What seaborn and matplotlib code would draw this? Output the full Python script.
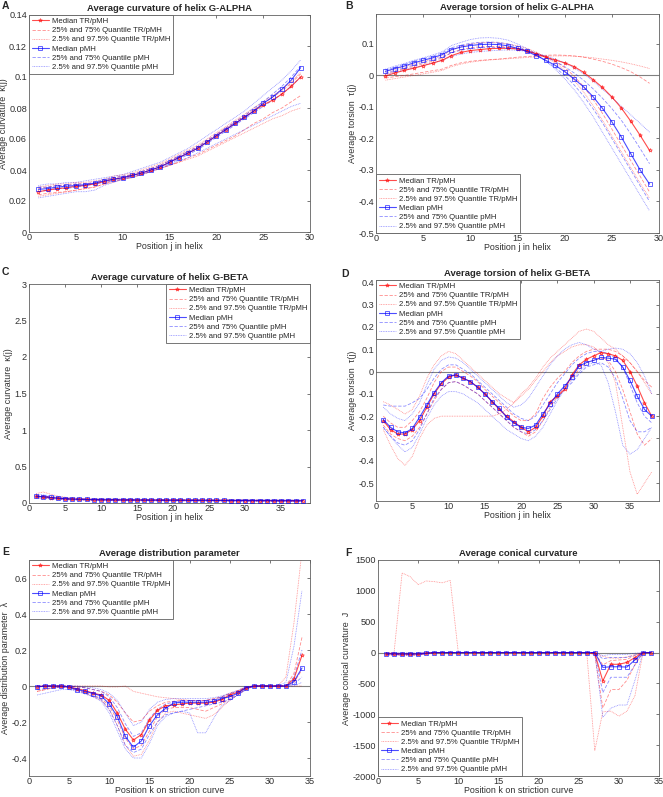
import numpy as np
import matplotlib
matplotlib.use('Agg')
import matplotlib.pyplot as plt
from matplotlib.ticker import FuncFormatter
import seaborn as sns

# ---------------- data ----------------
# A: curvature G-ALPHA, positions 1..29
a_x = list(range(1, 30))
a_tr_med = [0.026, 0.027, 0.028, 0.0285, 0.0295, 0.030, 0.031, 0.0325, 0.034, 0.035, 0.0365, 0.038, 0.040, 0.042, 0.045,
            0.048, 0.051, 0.054, 0.058, 0.062, 0.066, 0.070, 0.074, 0.078, 0.082, 0.085, 0.089, 0.094, 0.100]
a_tr_q25 = [0.024, 0.025, 0.0255, 0.026, 0.027, 0.028, 0.029, 0.031, 0.033, 0.034, 0.0355, 0.037, 0.039, 0.041, 0.043,
            0.045, 0.048, 0.050, 0.053, 0.056, 0.059, 0.062, 0.066, 0.070, 0.073, 0.077, 0.080, 0.084, 0.088]
a_tr_q75 = [0.028, 0.029, 0.030, 0.030, 0.031, 0.031, 0.032, 0.033, 0.035, 0.036, 0.037, 0.039, 0.041, 0.043, 0.046,
            0.049, 0.052, 0.055, 0.059, 0.063, 0.067, 0.071, 0.075, 0.079, 0.083, 0.087, 0.091, 0.096, 0.102]
a_tr_q2 = [0.023, 0.024, 0.025, 0.026, 0.027, 0.028, 0.029, 0.031, 0.032, 0.034, 0.035, 0.037, 0.039, 0.041, 0.043,
           0.045, 0.047, 0.049, 0.052, 0.055, 0.058, 0.061, 0.064, 0.067, 0.070, 0.073, 0.075, 0.078, 0.080]
a_tr_q97 = [0.029, 0.030, 0.031, 0.031, 0.032, 0.032, 0.033, 0.034, 0.036, 0.037, 0.038, 0.040, 0.042, 0.044, 0.047,
            0.050, 0.053, 0.056, 0.060, 0.064, 0.068, 0.072, 0.076, 0.080, 0.084, 0.088, 0.092, 0.097, 0.103]
a_pmh_med = [0.0275, 0.028, 0.029, 0.0295, 0.030, 0.0305, 0.0315, 0.033, 0.034, 0.035, 0.0365, 0.038, 0.040, 0.042, 0.045,
             0.048, 0.051, 0.054, 0.058, 0.062, 0.066, 0.070, 0.074, 0.078, 0.083, 0.087, 0.092, 0.098, 0.106]
a_pmh_q25 = [0.026, 0.027, 0.028, 0.028, 0.029, 0.030, 0.031, 0.032, 0.033, 0.034, 0.036, 0.037, 0.039, 0.041, 0.044,
             0.047, 0.050, 0.053, 0.057, 0.061, 0.065, 0.069, 0.073, 0.077, 0.081, 0.085, 0.089, 0.094, 0.100]
a_pmh_q75 = [0.029, 0.029, 0.030, 0.030, 0.031, 0.031, 0.032, 0.034, 0.035, 0.036, 0.037, 0.039, 0.041, 0.043, 0.046,
             0.049, 0.052, 0.055, 0.059, 0.063, 0.067, 0.071, 0.075, 0.080, 0.084, 0.089, 0.094, 0.100, 0.107]
a_pmh_q2 = [0.022, 0.023, 0.024, 0.025, 0.026, 0.026, 0.027, 0.030, 0.032, 0.034, 0.035, 0.037, 0.039, 0.041, 0.043,
            0.046, 0.048, 0.051, 0.054, 0.057, 0.060, 0.063, 0.066, 0.069, 0.072, 0.075, 0.078, 0.081, 0.083]
a_pmh_q97 = [0.030, 0.031, 0.031, 0.032, 0.032, 0.033, 0.034, 0.035, 0.036, 0.037, 0.039, 0.041, 0.043, 0.045, 0.048,
             0.051, 0.054, 0.058, 0.062, 0.066, 0.070, 0.074, 0.078, 0.083, 0.088, 0.093, 0.098, 0.104, 0.111]

# B: torsion G-ALPHA, positions 1..29
b_x = list(range(1, 30))
b_tr_med = [-0.002, 0.008, 0.016, 0.023, 0.031, 0.039, 0.048, 0.063, 0.073, 0.079, 0.082, 0.085, 0.086, 0.086, 0.084,
            0.078, 0.068, 0.058, 0.049, 0.040, 0.028, 0.010, -0.013, -0.038, -0.068, -0.103, -0.145, -0.190, -0.238]
b_tr_q25 = [-0.008, -0.004, 0.0, 0.005, 0.010, 0.015, 0.020, 0.032, 0.040, 0.045, 0.048, 0.050, 0.052, 0.055, 0.058,
            0.060, 0.062, 0.064, 0.065, 0.064, 0.062, 0.058, 0.052, 0.045, 0.036, 0.025, 0.012, -0.005, -0.025]
b_tr_q75 = [0.005, 0.013, 0.021, 0.029, 0.037, 0.045, 0.055, 0.072, 0.082, 0.088, 0.091, 0.092, 0.092, 0.090, 0.086,
            0.080, 0.071, 0.060, 0.045, 0.025, -0.002, -0.035, -0.075, -0.120, -0.170, -0.220, -0.270, -0.320, -0.370]
b_tr_q2 = [-0.015, -0.010, -0.005, 0.0, 0.005, 0.010, 0.016, 0.028, 0.036, 0.042, 0.046, 0.049, 0.051, 0.053, 0.055,
           0.057, 0.059, 0.061, 0.062, 0.062, 0.061, 0.059, 0.056, 0.052, 0.048, 0.043, 0.037, 0.030, 0.022]
b_tr_q97 = [0.012, 0.020, 0.028, 0.036, 0.044, 0.052, 0.062, 0.080, 0.092, 0.100, 0.104, 0.105, 0.104, 0.100, 0.094,
            0.086, 0.074, 0.058, 0.040, 0.016, -0.015, -0.052, -0.095, -0.142, -0.192, -0.242, -0.292, -0.342, -0.390]
b_pmh_med = [0.013, 0.022, 0.030, 0.040, 0.048, 0.056, 0.066, 0.082, 0.090, 0.095, 0.098, 0.099, 0.098, 0.094, 0.086,
             0.076, 0.063, 0.048, 0.032, 0.012, -0.011, -0.036, -0.067, -0.104, -0.147, -0.195, -0.248, -0.300, -0.345]
b_pmh_q25 = [0.008, 0.016, 0.024, 0.033, 0.041, 0.049, 0.058, 0.072, 0.080, 0.085, 0.088, 0.089, 0.089, 0.088, 0.085,
             0.079, 0.070, 0.058, 0.045, 0.028, 0.008, -0.015, -0.042, -0.072, -0.105, -0.142, -0.185, -0.232, -0.280]
b_pmh_q75 = [0.017, 0.026, 0.035, 0.045, 0.053, 0.061, 0.071, 0.088, 0.096, 0.102, 0.105, 0.106, 0.105, 0.100, 0.092,
             0.080, 0.065, 0.046, 0.025, 0.000, -0.030, -0.065, -0.105, -0.150, -0.200, -0.250, -0.300, -0.350, -0.400]
b_pmh_q2 = [0.003, 0.010, 0.017, 0.025, 0.032, 0.040, 0.048, 0.060, 0.068, 0.073, 0.076, 0.078, 0.080, 0.081, 0.080,
            0.076, 0.070, 0.062, 0.052, 0.040, 0.024, 0.005, -0.018, -0.043, -0.070, -0.098, -0.125, -0.152, -0.180]
b_pmh_q97 = [0.020, 0.030, 0.038, 0.048, 0.056, 0.065, 0.075, 0.095, 0.105, 0.114, 0.119, 0.120, 0.118, 0.112, 0.100,
             0.085, 0.068, 0.045, 0.020, -0.010, -0.045, -0.085, -0.130, -0.180, -0.230, -0.280, -0.330, -0.380, -0.430]

# C: curvature G-BETA, positions 1..38
c_x = list(range(1, 39))
c_tr_med = [0.090, 0.085, 0.075, 0.065, 0.058, 0.053, 0.050, 0.048, 0.046, 0.045, 0.044, 0.043, 0.042, 0.041, 0.040,
            0.040, 0.039, 0.039, 0.038, 0.038, 0.037, 0.037, 0.036, 0.036, 0.035, 0.035, 0.035, 0.034, 0.034, 0.034,
            0.033, 0.033, 0.033, 0.032, 0.032, 0.032, 0.031, 0.031]
c_tr_q25 = [0.080, 0.076, 0.068, 0.060, 0.053, 0.049, 0.046, 0.044, 0.042, 0.041, 0.040, 0.039, 0.038, 0.037, 0.036,
            0.036, 0.035, 0.035, 0.034, 0.034, 0.033, 0.033, 0.032, 0.032, 0.031, 0.031, 0.031, 0.030, 0.030, 0.030,
            0.029, 0.029, 0.029, 0.028, 0.028, 0.028, 0.027, 0.027]
c_tr_q75 = [0.100, 0.094, 0.083, 0.071, 0.063, 0.058, 0.054, 0.052, 0.050, 0.049, 0.048, 0.047, 0.046, 0.045, 0.044,
            0.044, 0.043, 0.043, 0.042, 0.042, 0.041, 0.041, 0.040, 0.040, 0.039, 0.039, 0.039, 0.038, 0.038, 0.038,
            0.037, 0.037, 0.037, 0.036, 0.036, 0.036, 0.035, 0.035]
c_tr_q2 = [0.065, 0.062, 0.056, 0.050, 0.045, 0.042, 0.040, 0.038, 0.036, 0.035, 0.034, 0.033, 0.032, 0.031, 0.031,
           0.030, 0.030, 0.029, 0.029, 0.028, 0.028, 0.027, 0.027, 0.027, 0.026, 0.026, 0.026, 0.025, 0.025, 0.025,
           0.024, 0.024, 0.024, 0.023, 0.023, 0.023, 0.022, 0.022]
c_tr_q97 = [0.130, 0.150, 0.120, 0.095, 0.080, 0.070, 0.064, 0.060, 0.058, 0.056, 0.055, 0.054, 0.053, 0.052, 0.051,
            0.050, 0.050, 0.049, 0.048, 0.048, 0.047, 0.047, 0.046, 0.046, 0.045, 0.045, 0.044, 0.044, 0.043, 0.043,
            0.043, 0.042, 0.042, 0.041, 0.041, 0.041, 0.040, 0.040]
c_pmh_med = [0.092, 0.086, 0.076, 0.066, 0.059, 0.054, 0.051, 0.048, 0.046, 0.045, 0.044, 0.043, 0.042, 0.041, 0.041,
             0.040, 0.039, 0.039, 0.038, 0.038, 0.037, 0.037, 0.036, 0.036, 0.036, 0.035, 0.035, 0.034, 0.034, 0.034,
             0.033, 0.033, 0.033, 0.032, 0.032, 0.032, 0.031, 0.031]
c_pmh_q25 = [0.082, 0.078, 0.069, 0.061, 0.054, 0.050, 0.047, 0.045, 0.043, 0.042, 0.041, 0.040, 0.039, 0.038, 0.037,
             0.037, 0.036, 0.036, 0.035, 0.035, 0.034, 0.034, 0.033, 0.033, 0.032, 0.032, 0.032, 0.031, 0.031, 0.031,
             0.030, 0.030, 0.030, 0.029, 0.029, 0.029, 0.028, 0.028]
c_pmh_q75 = [0.102, 0.095, 0.084, 0.072, 0.064, 0.059, 0.055, 0.053, 0.051, 0.050, 0.049, 0.048, 0.047, 0.046, 0.045,
             0.045, 0.044, 0.044, 0.043, 0.043, 0.042, 0.042, 0.041, 0.041, 0.040, 0.040, 0.040, 0.039, 0.039, 0.039,
             0.038, 0.038, 0.038, 0.037, 0.037, 0.037, 0.036, 0.036]
c_pmh_q2 = [0.068, 0.064, 0.058, 0.052, 0.047, 0.043, 0.041, 0.039, 0.037, 0.036, 0.035, 0.034, 0.033, 0.032, 0.032,
            0.031, 0.031, 0.030, 0.030, 0.029, 0.029, 0.028, 0.028, 0.028, 0.027, 0.027, 0.027, 0.026, 0.026, 0.026,
            0.025, 0.025, 0.025, 0.024, 0.024, 0.024, 0.023, 0.023]
c_pmh_q97 = [0.120, 0.112, 0.098, 0.085, 0.075, 0.068, 0.063, 0.060, 0.058, 0.056, 0.055, 0.054, 0.053, 0.052, 0.051,
             0.050, 0.050, 0.049, 0.048, 0.048, 0.047, 0.047, 0.046, 0.046, 0.045, 0.045, 0.044, 0.044, 0.043, 0.043,
             0.043, 0.042, 0.042, 0.041, 0.041, 0.041, 0.040, 0.040]

# D: torsion G-BETA, positions 1..38
d_x = list(range(1, 39))
d_tr_med = [-0.22, -0.26, -0.28, -0.28, -0.26, -0.22, -0.16, -0.10, -0.055, -0.025, -0.015, -0.03, -0.045, -0.07, -0.10,
            -0.135, -0.17, -0.20, -0.225, -0.25, -0.27, -0.25, -0.20, -0.135, -0.11, -0.08, -0.015, 0.03, 0.055, 0.07,
            0.085, 0.08, 0.07, 0.05, 0.0, -0.065, -0.14, -0.20]
d_tr_q25 = [-0.24, -0.28, -0.30, -0.31, -0.29, -0.25, -0.19, -0.13, -0.08, -0.05, -0.045, -0.06, -0.08, -0.10, -0.13,
            -0.16, -0.19, -0.22, -0.25, -0.27, -0.29, -0.27, -0.22, -0.16, -0.11, -0.07, -0.03, 0.01, 0.04, 0.05,
            0.06, 0.05, 0.0, -0.08, -0.18, -0.28, -0.33, -0.30]
d_tr_q75 = [-0.20, -0.23, -0.25, -0.25, -0.22, -0.18, -0.12, -0.05, 0.0, 0.02, 0.02, 0.0, -0.02, -0.045, -0.08,
            -0.11, -0.14, -0.17, -0.20, -0.22, -0.22, -0.19, -0.12, -0.07, -0.03, 0.0, 0.04, 0.07, 0.09, 0.10,
            0.10, 0.10, 0.09, 0.07, 0.04, 0.0, -0.04, -0.07]
d_tr_q2 = [-0.26, -0.33, -0.39, -0.42, -0.38, -0.30, -0.24, -0.21, -0.20, -0.20, -0.20, -0.20, -0.20, -0.20, -0.20,
           -0.20, -0.19, -0.17, -0.14, -0.11, -0.08, -0.04, 0.0, 0.04, 0.07, 0.09, 0.11, 0.12, 0.12, 0.11,
           0.08, 0.04, -0.05, -0.25, -0.45, -0.55, -0.50, -0.45]
d_tr_q97 = [-0.135, -0.15, -0.17, -0.19, -0.17, -0.11, -0.03, 0.03, 0.07, 0.09, 0.08, 0.05, 0.02, -0.01, -0.04,
            -0.07, -0.10, -0.12, -0.14, -0.10, -0.07, -0.03, 0.02, 0.06, 0.09, 0.12, 0.15, 0.18, 0.19, 0.18,
            0.15, 0.12, 0.10, 0.07, 0.04, 0.0, -0.05, -0.10]
d_pmh_med = [-0.215, -0.25, -0.27, -0.275, -0.255, -0.205, -0.15, -0.095, -0.05, -0.02, -0.015, -0.03, -0.045, -0.07, -0.10,
             -0.135, -0.165, -0.205, -0.23, -0.25, -0.255, -0.24, -0.19, -0.145, -0.10, -0.065, -0.025, 0.025, 0.04, 0.05,
             0.063, 0.06, 0.055, 0.02, -0.04, -0.11, -0.17, -0.20]
d_pmh_q25 = [-0.25, -0.29, -0.32, -0.33, -0.31, -0.26, -0.19, -0.12, -0.08, -0.05, -0.045, -0.06, -0.08, -0.10, -0.13,
             -0.16, -0.19, -0.22, -0.25, -0.27, -0.28, -0.26, -0.22, -0.17, -0.12, -0.08, -0.05, -0.01, 0.02, 0.03,
             0.04, 0.02, -0.03, -0.12, -0.22, -0.27, -0.27, -0.25]
d_pmh_q75 = [-0.15, -0.155, -0.155, -0.155, -0.14, -0.12, -0.08, -0.03, 0.01, 0.03, 0.03, 0.01, -0.01, -0.04, -0.07,
             -0.10, -0.13, -0.16, -0.19, -0.21, -0.22, -0.20, -0.15, -0.10, -0.05, -0.01, 0.03, 0.06, 0.08, 0.09,
             0.09, 0.08, 0.06, 0.02, -0.06, -0.14, -0.20, -0.23]
d_pmh_q2 = [-0.25, -0.29, -0.33, -0.36, -0.34, -0.28, -0.21, -0.15, -0.11, -0.09, -0.09, -0.10, -0.12, -0.14, -0.17,
            -0.20, -0.23, -0.26, -0.28, -0.30, -0.31, -0.29, -0.25, -0.19, -0.13, -0.08, -0.04, 0.0, 0.03, 0.04,
            0.03, -0.05, -0.18, -0.33, -0.37, -0.35, -0.30, -0.25]
d_pmh_q97 = [-0.16, -0.19, -0.21, -0.22, -0.19, -0.14, -0.06, 0.01, 0.05, 0.065, 0.06, 0.04, 0.01, -0.02, -0.05,
             -0.08, -0.11, -0.14, -0.16, -0.15, -0.12, -0.07, -0.02, 0.03, 0.07, 0.10, 0.12, 0.13, 0.12, 0.10,
             0.09, 0.10, 0.105, 0.10, 0.08, 0.04, -0.02, -0.10]

# E: distribution parameter, positions 1..34 on striction curve
e_x = list(range(1, 35))
e_tr_med = [-0.005, 0.0, 0.0, 0.0, -0.005, -0.015, -0.025, -0.04, -0.05, -0.08, -0.15, -0.24, -0.30, -0.27, -0.19,
            -0.135, -0.11, -0.105, -0.10, -0.095, -0.095, -0.095, -0.09, -0.075, -0.05, -0.035, -0.01, 0.0, 0.0, 0.0,
            0.0, 0.0, 0.04, 0.17]
e_tr_q25 = [-0.03, -0.02, -0.01, -0.005, -0.01, -0.02, -0.035, -0.05, -0.07, -0.11, -0.19, -0.29, -0.35, -0.33, -0.25,
            -0.17, -0.13, -0.12, -0.12, -0.12, -0.13, -0.14, -0.12, -0.10, -0.07, -0.045, -0.015, 0.0, 0.0, 0.0,
            0.0, 0.0, 0.02, 0.09]
e_tr_q75 = [0.0, 0.0, 0.0, 0.0, 0.0, -0.005, -0.01, -0.02, -0.03, -0.05, -0.09, -0.15, -0.20, -0.19, -0.14,
            -0.11, -0.09, -0.085, -0.08, -0.08, -0.08, -0.08, -0.07, -0.06, -0.04, -0.025, -0.005, 0.0, 0.0, 0.0,
            0.0, 0.0, 0.07, 0.27]
e_tr_q2 = [-0.03, -0.02, -0.01, -0.005, -0.01, -0.025, -0.04, -0.06, -0.08, -0.13, -0.22, -0.33, -0.39, -0.38, -0.30,
           -0.20, -0.15, -0.14, -0.15, -0.16, -0.17, -0.18, -0.16, -0.12, -0.08, -0.05, -0.02, 0.0, 0.0, 0.0,
           0.0, 0.0, 0.0, 0.0]
e_tr_q97 = [0.0, 0.0, 0.0, 0.0, 0.0, 0.0, 0.0, 0.0, 0.0, -0.005, -0.005, 0.0, -0.03, -0.04, -0.05,
            -0.06, -0.065, -0.07, -0.075, -0.08, -0.08, -0.08, -0.075, -0.065, -0.045, -0.03, -0.01, 0.0, 0.0, 0.0,
            0.0, 0.05, 0.35, 0.75]
e_pmh_med = [-0.005, 0.0, 0.0, 0.0, -0.005, -0.02, -0.03, -0.042, -0.055, -0.10, -0.17, -0.28, -0.34, -0.305, -0.22,
             -0.16, -0.125, -0.095, -0.09, -0.09, -0.09, -0.09, -0.085, -0.07, -0.06, -0.04, -0.01, 0.0, 0.0, 0.0,
             0.0, 0.0, 0.025, 0.10]
e_pmh_q25 = [-0.02, -0.015, -0.01, -0.005, -0.01, -0.025, -0.04, -0.055, -0.075, -0.13, -0.22, -0.33, -0.37, -0.35, -0.27,
             -0.20, -0.16, -0.15, -0.14, -0.13, -0.12, -0.11, -0.10, -0.09, -0.075, -0.05, -0.02, 0.0, 0.0, 0.0,
             0.0, 0.0, 0.01, 0.05]
e_pmh_q75 = [0.0, 0.0, 0.0, 0.0, 0.0, -0.005, -0.01, -0.02, -0.03, -0.06, -0.12, -0.21, -0.28, -0.26, -0.18,
             -0.13, -0.10, -0.09, -0.085, -0.08, -0.08, -0.08, -0.075, -0.06, -0.045, -0.03, -0.01, 0.0, 0.0, 0.0,
             0.0, 0.0, 0.05, 0.20]
e_pmh_q2 = [-0.05, -0.04, -0.03, -0.02, -0.02, -0.03, -0.045, -0.06, -0.085, -0.15, -0.25, -0.35, -0.40, -0.40, -0.32,
            -0.22, -0.17, -0.15, -0.14, -0.15, -0.26, -0.26, -0.18, -0.11, -0.08, -0.05, -0.02, 0.0, 0.0, 0.0,
            0.0, 0.0, 0.0, 0.02]
e_pmh_q97 = [0.0, 0.0, 0.0, 0.0, 0.0, 0.0, -0.005, -0.01, -0.02, -0.04, -0.08, -0.15, -0.22, -0.20, -0.13,
             -0.09, -0.075, -0.07, -0.07, -0.07, -0.07, -0.07, -0.065, -0.055, -0.04, -0.025, -0.005, 0.0, 0.0, 0.0,
             0.0, 0.02, 0.22, 0.53]

# F: conical curvature, positions 1..34 on striction curve
f_x = list(range(1, 35))
f_tr_med = [-20, -20, -25, -25, -25, -10, 0, 0, 0, 0, 0, 0, 0, 0, 0, 0, 0, 0, 0, 0,
            0, 0, 0, 0, 0, 0, -10, -460, -190, -190, -160, -80, 0, 0]
f_tr_q25 = [-30, -30, -35, -35, -35, -15, 0, 0, 0, 0, 0, 0, 0, 0, 0, 0, 0, 0, 0, 0,
            0, 0, 0, 0, 0, 0, -30, -900, -600, -600, -450, -200, 0, 0]
f_tr_q75 = [-10, -10, -12, -12, -12, -5, 0, 0, 0, 0, 0, 0, 0, 0, 0, 0, 0, 0, 0, 0,
            0, 0, 0, 0, 0, 0, 0, -200, -130, -120, -110, -50, 0, 0]
f_tr_q2 = [-40, -40, -45, -45, -45, -20, 0, 0, 0, 0, 0, 0, 0, 0, 0, 0, 0, 0, 0, 0,
           0, 0, 0, 0, 0, 0, -1590, -960, -950, -1030, -950, -700, -10, 0]
f_tr_q97 = [0, 0, 1290, 1230, 1100, 1160, 1150, 1130, 1170, 0, 0, 0, 0, 0, 0, 0, 0, 0, 0, 0,
            0, 0, 0, 0, 0, 0, -20, -60, -90, -90, -70, -30, 0, 0]
f_pmh_med = [-20, -20, -22, -22, -22, -10, 0, 0, 0, 0, 0, 0, 0, 0, 0, 0, 0, 0, 0, 0,
             0, 0, 0, 0, 0, 0, 0, -240, -230, -230, -235, -120, 0, 0]
f_pmh_q25 = [-30, -30, -32, -32, -32, -15, 0, 0, 0, 0, 0, 0, 0, 0, 0, 0, 0, 0, 0, 0,
             0, 0, 0, 0, 0, 0, 0, -650, -400, -400, -400, -200, 0, 0]
f_pmh_q75 = [-10, -10, -12, -12, -12, -5, 0, 0, 0, 0, 0, 0, 0, 0, 0, 0, 0, 0, 0, 0,
             0, 0, 0, 0, 0, 0, 0, -100, -80, -80, -80, -40, 0, 0]
f_pmh_q2 = [-40, -40, -42, -42, -42, -20, 0, 0, 0, 0, 0, 0, 0, 0, 0, 0, 0, 0, 0, 0,
            0, 0, 0, 0, 0, 0, 0, -1050, -900, -850, -850, -450, 0, 0]
f_pmh_q97 = [-5, -5, -8, -8, -8, -3, 0, 0, 0, 0, 0, 0, 0, 0, 0, 0, 0, 0, 0, 0,
             0, 0, 0, 0, 0, 0, 0, -50, -30, -30, -30, -10, 0, 0]

legend_labels = ['Median TR/pMH', '25% and 75% Quantile TR/pMH', '2.5% and 97.5% Quantile TR/pMH',
                 'Median pMH', '25% and 75% Quantile pMH', '2.5% and 97.5% Quantile pMH']

# ---------------- figure ----------------
sns.set_style('white')
plt.rcParams['font.family'] = ['Liberation Sans', 'DejaVu Sans']

W, H = 663, 797
fig = plt.figure(figsize=(W / 100, H / 100), dpi=100)


def px_axes(left, top, right, bottom):
    return fig.add_axes([left / W, 1 - bottom / H, (right - left) / W, (bottom - top) / H])


def draw_group(ax, x, med, q25, q75, q2, q97, color, marker, labels):
    sns.lineplot(x=x, y=q25, ax=ax, color=color, alpha=0.45, linewidth=0.6, linestyle=(0, (4, 2)), label=labels[1], zorder=2)
    sns.lineplot(x=x, y=q75, ax=ax, color=color, alpha=0.45, linewidth=0.6, linestyle=(0, (4, 2)), label='_nolegend_', zorder=2)
    sns.lineplot(x=x, y=q2, ax=ax, color=color, alpha=0.45, linewidth=0.6, linestyle=(0, (1, 1)), label=labels[2], zorder=2)
    sns.lineplot(x=x, y=q97, ax=ax, color=color, alpha=0.45, linewidth=0.6, linestyle=(0, (1, 1)), label='_nolegend_', zorder=2)
    sns.lineplot(x=x, y=med, ax=ax, color=color, alpha=0.7, linewidth=0.8, marker=marker, markersize=2.8,
                 markerfacecolor='none', markeredgecolor=color, markeredgewidth=0.6, label=labels[0], zorder=3)


def fmt_tick(v, p):
    return '%g' % (round(v, 6) + 0.0)


def draw_panel(ax, x, tr, pmh, letter, letter_xy, title, xlabel, ylabel, xlim, ylim, yticks, legend_loc, zero_line):
    if zero_line:
        ax.axhline(0, color='#808080', linewidth=0.8, zorder=1)
    draw_group(ax, x, *tr, color='red', marker='*', labels=legend_labels[0:3])
    draw_group(ax, x, *pmh, color='blue', marker='s', labels=legend_labels[3:6])
    ax.set_xlim(*xlim)
    ax.set_ylim(*ylim)
    ax.set_xticks(np.arange(0, xlim[1] + 0.1, 5))
    ax.set_yticks(yticks)
    ax.xaxis.set_major_formatter(FuncFormatter(fmt_tick))
    ax.yaxis.set_major_formatter(FuncFormatter(fmt_tick))
    ax.tick_params(direction='in', length=2.5, width=0.5, labelsize=6.6, pad=1.5, colors='#404040',
                   top=True, right=True, labelcolor='#303030')
    ax.tick_params(axis='x', pad=1)
    for s in ax.spines.values():
        s.set_color('#606060')
        s.set_linewidth(0.6)
    ax.set_title(title, fontsize=6.8, fontweight='bold', pad=3)
    ax.set_xlabel(xlabel, fontsize=6.4, labelpad=0, color='#303030')
    ax.set_ylabel(ylabel, fontsize=6.4, labelpad=1, color='#303030')
    # legend in the order of the six series
    handles, labels = ax.get_legend_handles_labels()
    order = [labels.index(lb) for lb in legend_labels]
    leg = ax.legend([handles[i] for i in order], legend_labels, loc=legend_loc, fontsize=5.6, frameon=True,
                    fancybox=False, borderaxespad=0.0, handlelength=2.2, handletextpad=0.4, labelspacing=0.22,
                    borderpad=0.35, framealpha=1, edgecolor='#606060')
    leg.get_frame().set_linewidth(0.6)
    fig.text(letter_xy[0] / W, 1 - letter_xy[1] / H, letter, fontsize=7.5, fontweight='bold', ha='left', va='top')


ax_a = px_axes(29, 15, 310, 232)
draw_panel(ax_a, a_x, (a_tr_med, a_tr_q25, a_tr_q75, a_tr_q2, a_tr_q97),
           (a_pmh_med, a_pmh_q25, a_pmh_q75, a_pmh_q2, a_pmh_q97),
           'A', (2, 1), 'Average curvature of helix G-ALPHA', 'Position j in helix', 'Average curvature  κ(j)',
           (0, 30), (0, 0.14), np.arange(0, 0.141, 0.02), 'upper left', False)

ax_b = px_axes(376, 14, 659, 233)
draw_panel(ax_b, b_x, (b_tr_med, b_tr_q25, b_tr_q75, b_tr_q2, b_tr_q97),
           (b_pmh_med, b_pmh_q25, b_pmh_q75, b_pmh_q2, b_pmh_q97),
           'B', (345, 1), 'Average torsion of helix G-ALPHA', 'Position j in helix', 'Average torsion  τ(j)',
           (0, 30), (-0.5, 0.195), np.arange(-0.5, 0.11, 0.1), 'lower left', True)

ax_c = px_axes(29, 284, 310, 503)
draw_panel(ax_c, c_x, (c_tr_med, c_tr_q25, c_tr_q75, c_tr_q2, c_tr_q97),
           (c_pmh_med, c_pmh_q25, c_pmh_q75, c_pmh_q2, c_pmh_q97),
           'C', (2, 267), 'Average curvature of helix G-BETA', 'Position j in helix', 'Average curvature  κ(j)',
           (0, 39), (0, 3), np.arange(0, 3.01, 0.5), 'upper right', False)

ax_d = px_axes(376, 280, 659, 501)
draw_panel(ax_d, d_x, (d_tr_med, d_tr_q25, d_tr_q75, d_tr_q2, d_tr_q97),
           (d_pmh_med, d_pmh_q25, d_pmh_q75, d_pmh_q2, d_pmh_q97),
           'D', (341, 269), 'Average torsion of helix G-BETA', 'Position j in helix', 'Average torsion  τ(j)',
           (0, 39), (-0.58, 0.41), np.arange(-0.5, 0.41, 0.1), 'upper left', True)

ax_e = px_axes(29, 560, 310, 776)
draw_panel(ax_e, e_x, (e_tr_med, e_tr_q25, e_tr_q75, e_tr_q2, e_tr_q97),
           (e_pmh_med, e_pmh_q25, e_pmh_q75, e_pmh_q2, e_pmh_q97),
           'E', (2, 547), 'Average distribution parameter', 'Position k on striction curve', 'Average distribution parameter  λ',
           (0, 35), (-0.5, 0.7), np.arange(-0.4, 0.61, 0.2), 'upper left', True)

ax_f = px_axes(378, 560, 659, 776)
draw_panel(ax_f, f_x, (f_tr_med, f_tr_q25, f_tr_q75, f_tr_q2, f_tr_q97),
           (f_pmh_med, f_pmh_q25, f_pmh_q75, f_pmh_q2, f_pmh_q97),
           'F', (345, 548), 'Average conical curvature', 'Position k on striction curve', 'Average conical curvature  J',
           (0, 35), (-2000, 1500), np.arange(-2000, 1501, 500), 'lower left', True)

fig.savefig('out.png', dpi=100, facecolor='white')
